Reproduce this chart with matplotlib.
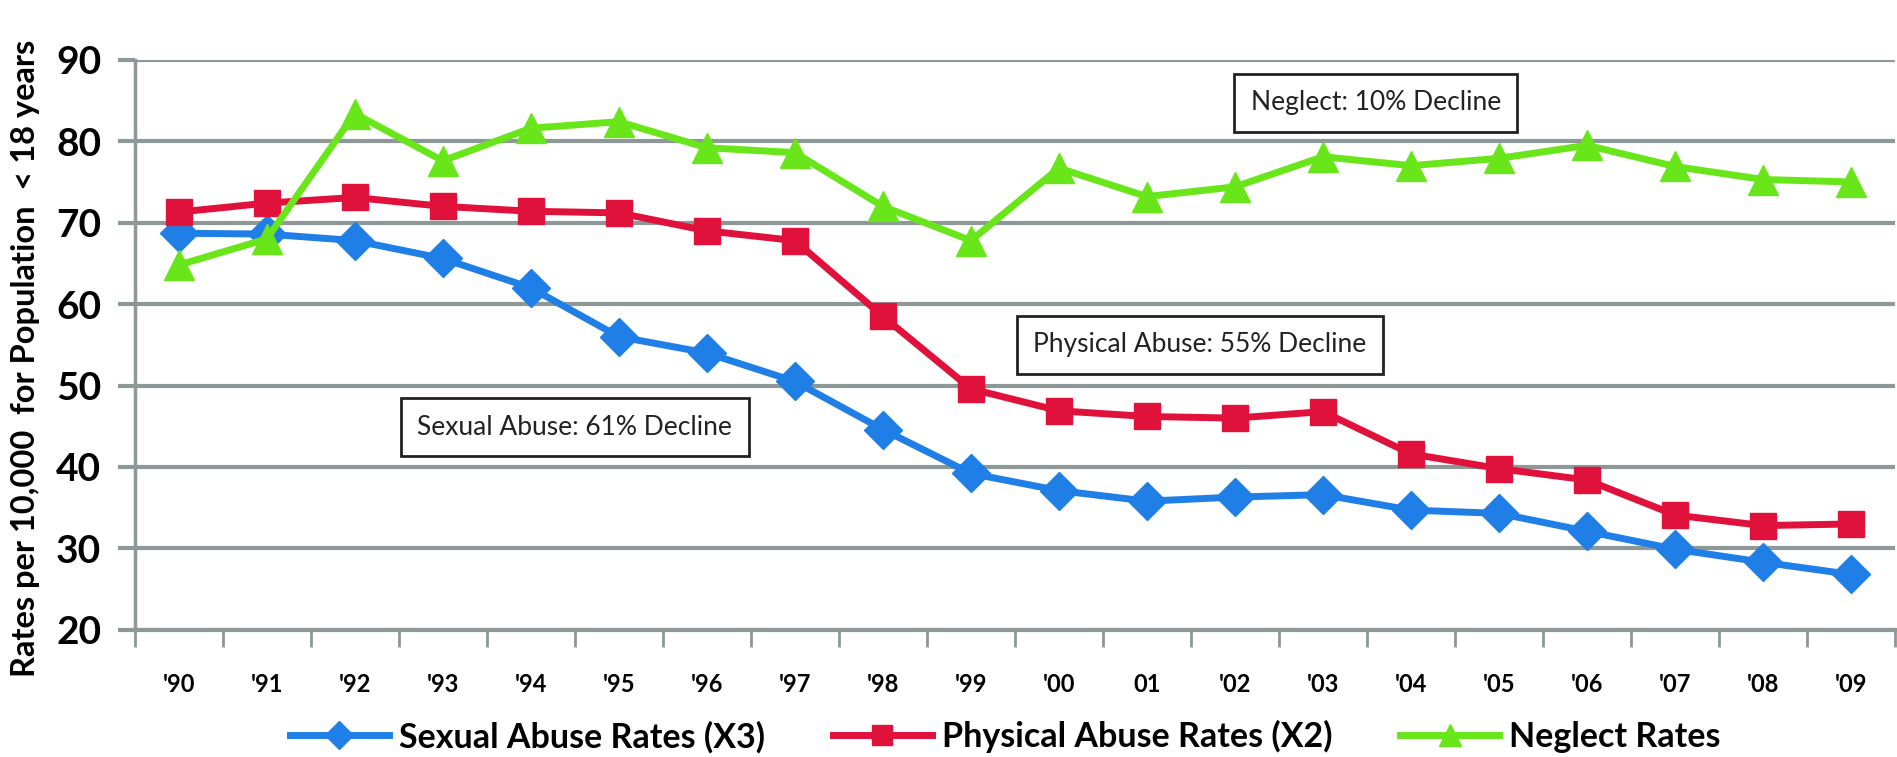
import matplotlib
matplotlib.use("Agg")
import matplotlib.pyplot as plt

# values
years = ["'90", "'91", "'92", "'93", "'94", "'95", "'96", "'97", "'98", "'99",
         "'00", "01", "'02", "'03", "'04", "'05", "'06", "'07", "'08", "'09"]
sexual = [68.7, 68.6, 67.8, 65.6, 62.0, 56.0, 54.0, 50.5, 44.6, 39.2,
          37.1, 35.8, 36.3, 36.6, 34.7, 34.3, 32.1, 29.9, 28.3, 26.8]
physical = [71.3, 72.4, 73.1, 72.0, 71.4, 71.2, 69.0, 67.8, 58.5, 49.6,
            46.9, 46.2, 46.0, 46.8, 41.6, 39.8, 38.4, 34.1, 32.8, 33.0]
neglect = [64.8, 68.0, 83.4, 77.6, 81.6, 82.4, 79.2, 78.6, 72.0, 67.8,
           76.7, 73.2, 74.4, 78.1, 77.0, 77.9, 79.5, 76.9, 75.3, 75.0]

series_labels = ["Sexual Abuse Rates (X3)", "Physical Abuse Rates (X2)", "Neglect Rates"]
notes = ["Sexual Abuse: 61% Decline", "Physical Abuse: 55% Decline", "Neglect: 10% Decline"]
note_pos = [(4.5, 44.9), (11.6, 55.0), (13.6, 84.7)]

BLUE = "#1f7fe6"
RED = "#e0123c"
GREEN = "#68e61a"
GRID = "#8e9898"

plt.rcParams['font.family'] = ['Lato', 'DejaVu Sans']

fig = plt.figure(figsize=(18.97, 7.57), dpi=100)
ax = fig.add_axes([0.071, 0.168, 0.928, 0.753])

x = list(range(len(years)))
ax.plot(x, sexual, color=BLUE, lw=5, marker="D", ms=19, label=series_labels[0], zorder=3)
ax.plot(x, physical, color=RED, lw=5, marker="s", ms=19, label=series_labels[1], zorder=3)
ax.plot(x, neglect, color=GREEN, lw=5, marker="^", ms=21, label=series_labels[2], zorder=3)

ax.set_ylim(20, 90)
ax.set_xlim(-0.5, 19.45)
ax.set_yticks(range(20, 91, 10))
ax.grid(axis="y", color=GRID, lw=3)
ax.set_axisbelow(True)

ax.set_xticks(x)
ax.set_xticklabels(years, fontsize=17, fontweight="bold")
ax.set_xticks([i - 0.5 for i in range(len(years) + 1)], minor=True)
ax.tick_params(axis="x", which="major", length=0, pad=31)
ax.tick_params(axis="x", which="minor", length=12, width=2, color=GRID)
ax.tick_params(axis="y", length=12, width=3, color=GRID, labelsize=28, pad=12)
for lab in ax.get_yticklabels():
    lab.set_fontweight("bold")

for s in ["top", "right"]:
    ax.spines[s].set_visible(False)
ax.spines["left"].set_color(GRID)
ax.spines["left"].set_linewidth(2.5)
ax.spines["bottom"].set_color(GRID)
ax.spines["bottom"].set_linewidth(3)

ax.set_ylabel("Rates per 10,000  for Population  < 18 years", fontsize=23.5,
              fontweight="bold")
ax.yaxis.set_label_coords(-0.054, 0.477)

for txt, (nx, ny) in zip(notes, note_pos):
    ax.text(nx, ny, txt, ha="center", va="center", fontsize=19, color="#222222",
            bbox=dict(boxstyle="square,pad=0.62", fc="white", ec="#222222", lw=2),
            zorder=4)

fig.legend(loc="center", bbox_to_anchor=(0.53, 0.027), ncol=3, frameon=False,
           prop={'weight': 'bold', 'size': 24.5},
           handlelength=2.9, columnspacing=2.0, handletextpad=0.3, markerscale=0.75)

fig.savefig("out.png", dpi=100)
